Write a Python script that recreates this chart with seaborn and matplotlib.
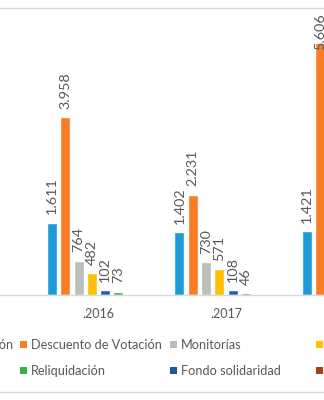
import numpy as np
import pandas as pd
import seaborn as sns
import matplotlib
matplotlib.use("Agg")
import matplotlib.pyplot as plt
from matplotlib.patches import Patch
from matplotlib.lines import Line2D

# ---- data ----
years = [".2015", ".2016", ".2017", ".2018"]
series = ["Exoneración", "Descuento de Votación", "Monitorías", "Auxilios",
          "Becas", "Reliquidación", "Fondo solidaridad", "Otros"]
colors = ["#1f9ad8", "#f97d24", "#bdbdbd", "#ffc000",
          "#1f5fb0", "#3faa48", "#1b5a98", "#a2460f"]
nan = np.nan
v_2015 = [nan, nan, nan, nan, nan, nan, 25, nan]
v_2016 = [1611, 3958, 764, 482, 102, 73, nan, nan]
v_2017 = [1402, 2231, 730, 571, 108, 46, nan, nan]
v_2018 = [1421, 5606, nan, nan, nan, nan, nan, nan]

rows = []
for yr, vals in zip(years, [v_2015, v_2016, v_2017, v_2018]):
    for s, v in zip(series, vals):
        rows.append({"year": yr, "serie": s, "value": v})
df = pd.DataFrame(rows).dropna()

sns.set_theme(style="white")
plt.rcParams["font.family"] = ["Lato", "DejaVu Sans"]
TXT = "#595959"

PX_PER_UNIT = 0.04495          # vertical scale (pixels per value unit)
AX_H_PX = 295                  # axes height in pixels
fig = plt.figure(figsize=(3.24, 4.0), dpi=100)
ax = fig.add_axes([0, 105 / 400, 1, AX_H_PX / 400])

sns.barplot(data=df, x="year", y="value", hue="serie", order=years,
            hue_order=series, palette=dict(zip(series, colors)),
            width=0.835, gap=0.25, saturation=1, legend=False, ax=ax)

ymax = AX_H_PX / PX_PER_UNIT
label_limit = (AX_H_PX - 13) / PX_PER_UNIT   # plot-area top for labels
label_len = 46 / PX_PER_UNIT                  # room a label needs above a bar
for cont in ax.containers:
    labels = []
    for bar, v in zip(cont.patches, cont.datavalues):
        if np.isnan(v) or v < 40:
            labels.append("")
            continue
        txt = f"{int(v):,}".replace(",", ".")
        if v + label_len > label_limit:
            # label would leave the plot area: keep it inside, like Excel
            ax.annotate(txt, (bar.get_x() + bar.get_width() / 2, label_limit),
                        rotation=90, ha="center", va="top", fontsize=10.4,
                        color=TXT, annotation_clip=False)
            labels.append("")
        else:
            labels.append(txt)
    ax.bar_label(cont, labels=labels, rotation=90, padding=6,
                 fontsize=10.4, color=TXT, clip_on=False)

ax.set_xlim(0.2275, 0.2275 + 324 / 127.5)
ax.set_ylim(0, ymax)
ax.set_xlabel("")
ax.set_ylabel("")
ax.set_yticks([])
ax.tick_params(axis="x", length=0, pad=9, labelsize=9, labelcolor=TXT)
for sp in ["top", "left", "right"]:
    ax.spines[sp].set_visible(False)
ax.spines["bottom"].set_color("#d9d9d9")
ax.spines["bottom"].set_linewidth(1)
ax.patch.set_alpha(0)

# ---- legend: 4 columns, each a 2-row legend ----
fs = 9.2
handles = [Patch(facecolor=c, edgecolor="none") for c in colors]
col_idx = [(0, 4), (1, 5), (2, 6), (3, 7)]
col_x = [14, 20, 170, 316]
yc = (400 - 357.75) / 400
for k, (a, b) in enumerate(col_idx):
    loc = "center right" if k == 0 else "center left"
    fig.legend([handles[a], handles[b]], [series[a], series[b]],
               loc=loc, bbox_to_anchor=(col_x[k] / 324, yc),
               frameon=False, borderpad=0, borderaxespad=0,
               handlelength=0.55, handleheight=0.46, handletextpad=0.31,
               labelspacing=1.12, fontsize=fs, labelcolor=TXT)

# chart border lines
for y in [(400 - 8) / 400, (400 - 392) / 400]:
    fig.add_artist(Line2D([0, 1], [y, y], transform=fig.transFigure,
                          color="#d9d9d9", lw=1))

fig.savefig("out.png", dpi=100)
